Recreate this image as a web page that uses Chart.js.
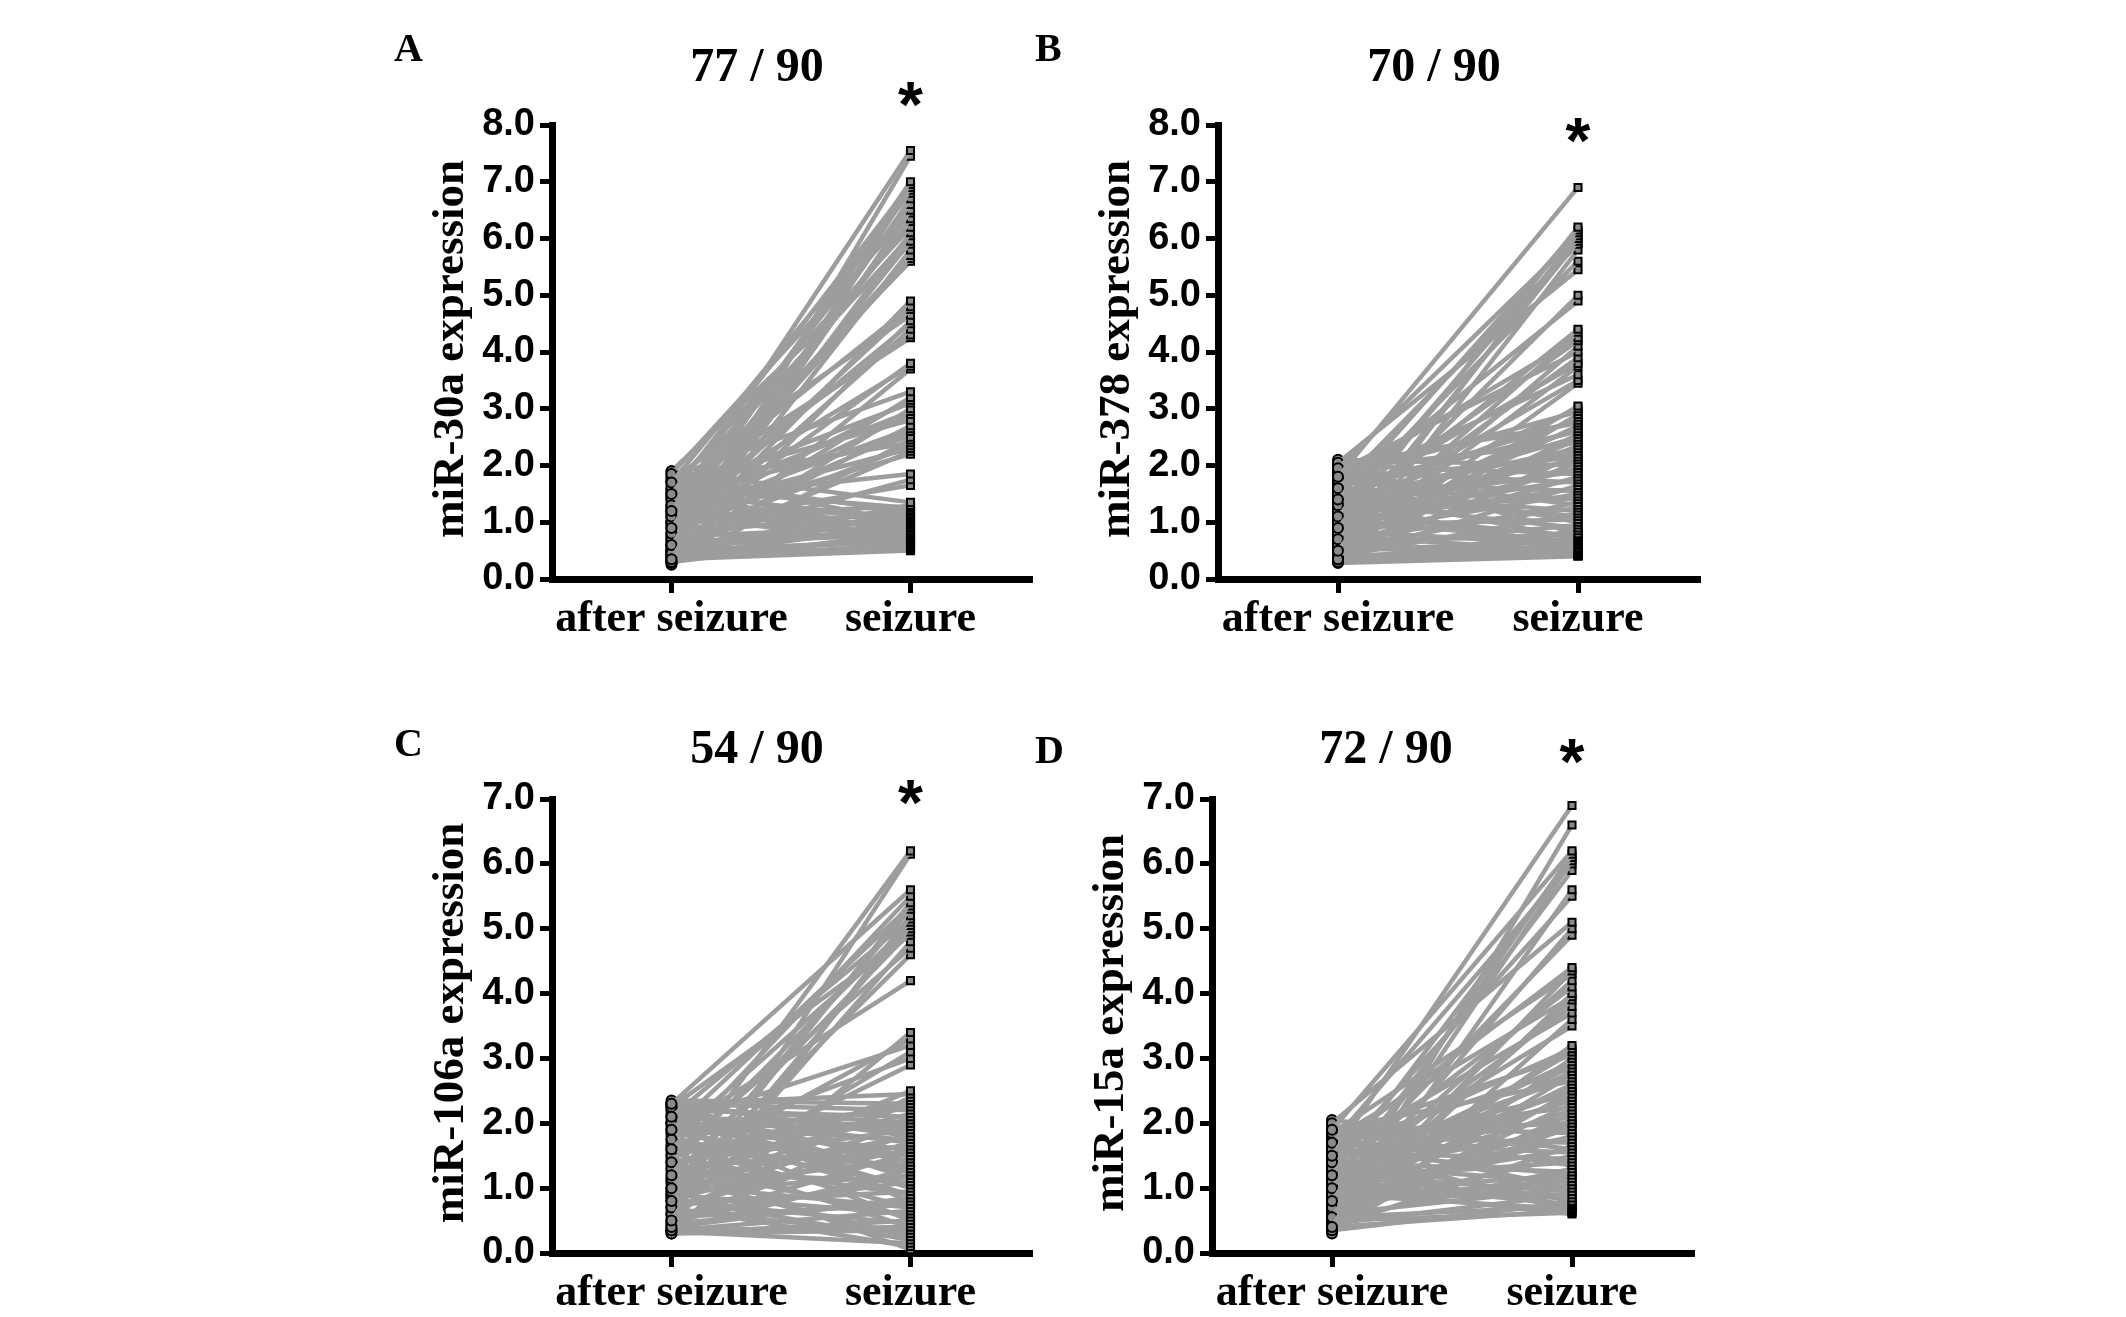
<!DOCTYPE html>
<html>
<head>
<meta charset="utf-8">
<title>miRNA expression, after seizure vs seizure</title>
<script src="https://cdn.jsdelivr.net/npm/chart.js@4.4.1/dist/chart.umd.min.js"></script>
<style>
  html, body { margin: 0; padding: 0; background: #fff; }
  body { width: 2126px; height: 1317px; position: relative; overflow: hidden; }
  canvas { position: absolute; }
</style>
</head>
<body>
<canvas id="chartA" width="680" height="660" style="left:380px;top:0px;width:680px;height:660px"></canvas>
<canvas id="chartB" width="720" height="660" style="left:1030px;top:0px;width:720px;height:660px"></canvas>
<canvas id="chartC" width="680" height="657" style="left:380px;top:660px;width:680px;height:657px"></canvas>
<canvas id="chartD" width="720" height="657" style="left:1030px;top:660px;width:720px;height:657px"></canvas>
<script>
// Data

const groups = ['after seizure', 'seizure'];
const ticks8 = [0, 1, 2, 3, 4, 5, 6, 7, 8];
const ticks7 = [0, 1, 2, 3, 4, 5, 6, 7];

// A - miR-30a
const afterA = [1.2, 0.35,
    0.9, 1.5, 0.3, 1.1, 1.7, 0.6, 1.3, 0.45, 1.85, 0.8, 1.0, 1.6, 0.5, 1.4, 0.7, 1.9, 0.4, 1.15, 0.95, 1.25,
    0.55, 1.45, 0.85, 1.75, 0.3, 1.05, 0.65, 1.35, 1.55,
    0.75, 1.2, 0.28,
    1.8, 0.6, 1.0, 1.5, 0.35, 1.3, 0.9, 1.65, 0.5, 1.1, 0.8, 1.45, 0.25, 1.7, 0.7, 1.2, 0.45, 1.0,
    1.4, 0.6, 0.95,
    1.9, 0.5, 1.1, 1.6, 0.3, 0.8, 1.75, 0.45, 1.0, 1.3, 0.6, 1.5, 0.35, 0.9, 1.85, 0.4, 0.75, 1.2, 0.55, 1.45,
    0.3, 0.6, 0.65, 1.7, 0.4, 1.25, 0.5, 0.5, 1.55, 0.35, 0.4, 1.15, 0.45, 1.8, 0.35];
const seizureA = [7.55, 7.45,
    7.0, 6.95, 6.9, 6.85, 6.8, 6.7, 6.6, 6.5, 6.45, 6.35, 6.3, 6.2, 6.1, 6.05, 5.95, 5.9, 5.8, 5.7, 5.65, 5.6,
    4.9, 4.8, 4.75, 4.65, 4.55, 4.5, 4.4, 4.3, 4.25,
    3.8, 3.75, 3.7,
    3.3, 3.2, 3.15, 3.1, 3.0, 2.95, 2.9, 2.8, 2.7, 2.65, 2.6, 2.5, 2.45, 2.4, 2.35, 2.3, 2.25, 2.2,
    1.85, 1.75, 1.65,
    1.35, 1.3, 1.28, 1.25, 1.22, 1.2, 1.18, 1.15, 1.12, 1.1, 1.08, 1.05, 1.02, 1.0, 0.98, 0.95, 0.92, 0.9, 0.88, 0.85,
    0.82, 0.8, 0.78, 0.75, 0.72, 0.7, 0.68, 0.65, 0.62, 0.6, 0.58, 0.56, 0.54, 0.52, 0.5];

// B - miR-378
const afterB = [1.8, 0.9, 1.4, 0.5, 1.95, 1.1, 0.7, 1.6, 0.35, 1.3, 2.05, 0.8, 1.5, 1.0, 0.6, 1.75, 1.2, 0.45, 1.9, 0.85,
    1.35, 0.55, 1.65, 1.05, 0.4,
    0.5, 1.2, 1.8, 0.35, 0.9, 1.5, 2.0, 0.7, 1.1, 1.65, 0.4, 1.3, 0.8, 1.95, 0.6, 1.4, 1.0, 0.3, 1.75, 1.25,
    0.45, 2.1, 0.9, 1.3, 2.0, 0.6, 1.1, 1.9, 0.35, 1.0, 1.7, 0.8, 1.2, 1.6, 0.5, 1.85, 0.7, 1.5, 0.4, 1.45,
    0.95, 1.8, 0.55, 1.35, 0.3, 1.95, 0.65, 1.15, 0.35, 1.55, 0.5, 1.05, 0.3, 0.85, 0.4, 1.25, 0.32, 0.75, 0.3, 0.6,
    0.33, 1.4, 0.3, 0.55, 0.28];
const seizureB = [6.9,
    6.2, 6.15, 6.1, 6.05, 6.0, 5.95, 5.9, 5.8,
    5.6, 5.45,
    5.0, 4.9,
    4.4, 4.35, 4.25, 4.2, 4.1, 4.0, 3.9, 3.8, 3.75, 3.6, 3.5, 3.45,
    3.05, 3.0, 2.95, 2.9, 2.85, 2.8, 2.75, 2.7, 2.65, 2.6, 2.55, 2.5, 2.45, 2.4, 2.35, 2.3, 2.25, 2.2, 2.15, 2.1,
    2.05, 2.0, 1.95, 1.9, 1.85, 1.8, 1.75, 1.7, 1.65, 1.6, 1.55, 1.5, 1.45, 1.4, 1.35, 1.3, 1.25, 1.2, 1.15, 1.1,
    1.05, 1.0, 0.95, 0.9, 0.85, 0.8, 0.78, 0.75, 0.72, 0.7, 0.68, 0.65, 0.62, 0.6, 0.58, 0.55, 0.52, 0.5, 0.48, 0.46,
    0.45, 0.44, 0.42, 0.41, 0.4];

// C - miR-106a
const afterC = [1.2, 0.5, 2.3, 1.6, 0.8, 1.9, 1.0, 0.4, 2.1, 1.4, 0.7, 1.75, 1.15, 2.25, 0.6, 1.5, 0.95, 1.85, 0.35, 1.3,
    2.0, 0.9, 1.65, 1.1,
    1.0, 2.3, 0.6, 1.5, 2.35, 0.9, 1.8, 2.3, 1.2, 0.4,
    2.2, 1.6, 2.25, 0.8, 2.1, 1.4, 2.0, 0.5, 2.3, 1.1,
    1.95, 0.7, 2.15, 1.3, 1.9, 0.85, 0.45, 2.05, 1.7, 1.0,
    2.2, 1.6, 0.35, 1.85, 2.0, 0.95, 0.5, 2.3, 1.25, 0.6,
    1.75, 2.1, 0.75, 1.45, 1.9, 0.4, 0.45, 2.25, 0.55, 1.05,
    1.65, 0.35, 0.9, 1.35, 0.3, 2.0, 0.8, 0.35, 1.55, 0.3,
    0.65, 1.15, 0.85, 0.33, 0.7, 1.4];
const seizureC = [6.2, 6.15,
    5.6, 5.5, 5.4, 5.35, 5.3, 5.2, 5.15, 5.1, 5.05, 5.0, 4.95, 4.9, 4.8, 4.7, 4.6,
    4.2,
    3.4, 3.3, 3.2, 3.1, 3.0, 2.9,
    2.5, 2.45, 2.4, 2.35, 2.3, 2.3, 2.25, 2.2, 2.15, 2.1,
    2.1, 2.05, 2.0, 2.0, 1.95, 1.9, 1.9, 1.85, 1.8, 1.8,
    1.75, 1.7, 1.7, 1.65, 1.6, 1.6, 1.55, 1.5, 1.5, 1.45,
    1.4, 1.35, 1.3, 1.3, 1.25, 1.2, 1.2, 1.15, 1.1, 1.1,
    1.05, 1.0, 0.95, 0.9, 0.9, 0.85, 0.8, 0.8, 0.75, 0.7,
    0.7, 0.65, 0.6, 0.55, 0.5, 0.5, 0.45, 0.4, 0.4, 0.35,
    0.3, 0.25, 0.2, 0.15, 0.1, 0.05];

// D - miR-15a
const afterD = [1.5, 0.4, 1.9, 0.8, 1.2, 0.55, 1.7, 1.0, 0.35, 1.4, 2.0, 0.7, 1.1, 1.6, 0.5, 1.85, 0.9, 1.3, 0.45, 1.75,
    0.65, 1.05, 1.55, 0.3, 1.25,
    0.6, 1.5, 0.9, 1.8, 0.4, 1.2, 0.75, 1.65, 1.0, 0.5,
    1.4, 1.9, 0.8, 1.1, 0.35, 1.6, 0.95, 1.3, 0.55, 1.75,
    1.05, 0.45, 1.45, 0.7, 1.85, 0.6, 1.25, 1.95, 0.85, 1.5,
    1.8, 0.4, 1.0, 1.7, 0.65, 1.55, 1.15, 1.9, 0.5, 1.4,
    1.6, 0.75, 1.35, 0.9, 1.75, 1.2, 0.45, 1.05, 1.45, 0.35,
    1.1, 0.55, 1.3, 0.9, 0.4, 1.65, 0.5, 1.0, 0.8, 2.05,
    1.2, 0.7, 0.95, 0.6, 0.85];
const seizureD = [6.9, 6.6,
    6.2, 6.15, 6.1, 6.05, 6.0, 5.9,
    5.6, 5.5,
    5.1, 5.0, 4.9,
    4.4, 4.35, 4.3, 4.2, 4.1, 4.0, 3.95, 3.9, 3.8, 3.7, 3.6, 3.5,
    3.2, 3.15, 3.1, 3.05, 3.0, 2.95, 2.9, 2.85, 2.8, 2.75,
    2.7, 2.65, 2.6, 2.55, 2.5, 2.45, 2.4, 2.35, 2.3, 2.25,
    2.2, 2.15, 2.1, 2.05, 2.0, 1.95, 1.9, 1.85, 1.8, 1.75,
    1.7, 1.65, 1.6, 1.55, 1.5, 1.45, 1.4, 1.35, 1.3, 1.25,
    1.2, 1.15, 1.1, 1.05, 1.0, 0.95, 0.9, 0.85, 0.8, 0.78,
    0.75, 0.72, 0.7, 0.68, 0.66, 0.64, 0.62, 0.6, 2.0, 1.6,
    2.5, 1.8, 1.2, 1.0, 0.9];

// Style

const LINE_GRAY = '#9d9d9d';
const POINT_GRAY = '#8a8a8a';
const SERIF = "'Liberation Serif', 'Times New Roman', serif";
const SANS = "'Liberation Sans', Arial, sans-serif";

// panel letter, title, asterisk and y title
const decor = {
    id: 'decor',
    afterDraw(chart, args, o) {
        const ctx = chart.ctx;
        const area = chart.chartArea;
        ctx.save();
        ctx.fillStyle = '#000';
        ctx.textBaseline = 'alphabetic';

        ctx.font = 'bold 40px ' + SERIF;
        ctx.textAlign = 'left';
        ctx.fillText(o.letter, o.letterX, o.letterY);

        ctx.font = 'bold 48px ' + SERIF;
        ctx.textAlign = 'center';
        ctx.fillText(o.title, o.titleX, o.titleY);

        // asterisk sits over the seizure column
        const sx = chart.scales.x.getPixelForValue(1);
        ctx.font = 'bold 64px ' + SANS;
        ctx.fillText('*', sx, o.starY + 0.58 * 64);

        ctx.translate(area.left - 89, (area.top + area.bottom) / 2 - 3);
        ctx.rotate(-Math.PI / 2);
        ctx.font = 'bold 45px ' + SERIF;
        ctx.fillText(o.yTitle, 0, 0);
        ctx.restore();
    }
};

// Setup

const panels = [
    { id: 'chartA', after: afterA, seizure: seizureA, ticks: ticks8, letter: 'A', title: '77 / 90',
      yTitle: 'miR-30a expression', yWidth: 172, padTop: 125, padRight: 30, xHeight: 81,
      letterX: 14, letterY: 61, titleX: 377, titleY: 81, starY: 90 },
    { id: 'chartB', after: afterB, seizure: seizureB, ticks: ticks8, letter: 'B', title: '70 / 90',
      yTitle: 'miR-378 expression', yWidth: 188, padTop: 125, padRight: 52, xHeight: 81,
      letterX: 5, letterY: 61, titleX: 404, titleY: 81, starY: 126 },
    { id: 'chartC', after: afterC, seizure: seizureC, ticks: ticks7, letter: 'C', title: '54 / 90',
      yTitle: 'miR-106a expression', yWidth: 172, padTop: 139, padRight: 30, xHeight: 64,
      letterX: 14, letterY: 96, titleX: 377, titleY: 103, starY: 128 },
    { id: 'chartD', after: afterD, seizure: seizureD, ticks: ticks7, letter: 'D', title: '72 / 90',
      yTitle: 'miR-15a expression', yWidth: 182, padTop: 139, padRight: 58, xHeight: 64,
      letterX: 5, letterY: 103, titleX: 356, titleY: 103, starY: 87 }
];

function makeChart(p) {
    const datasets = p.after.map((a, i) => ({
        data: [a, p.seizure[i]],
        borderColor: LINE_GRAY,
        borderWidth: 4.5,
        pointStyle: ['circle', 'rect'],
        pointRadius: 5,
        pointBackgroundColor: POINT_GRAY,
        pointBorderColor: '#000',
        pointBorderWidth: 2,
        fill: false,
        tension: 0
    }));

    const config = {
        type: 'line',
        data: { labels: groups, datasets: datasets },
        options: {
            responsive: false,
            animation: false,
            devicePixelRatio: 1,
            layout: { padding: { top: p.padTop, right: p.padRight, left: 0, bottom: 0 } },
            plugins: {
                legend: { display: false },
                tooltip: { enabled: false },
                decor: p
            },
            scales: {
                x: {
                    type: 'category',
                    offset: true,
                    grid: { offset: false, drawOnChartArea: false, drawTicks: true, tickLength: 14, lineWidth: 5, color: '#000' },
                    border: { display: true, color: '#000', width: 7 },
                    ticks: { color: '#000', padding: 0, maxRotation: 0, autoSkip: false,
                             font: { family: SERIF, size: 44, weight: 'bold' } },
                    afterFit(s) { s.height = p.xHeight; }
                },
                y: {
                    min: p.ticks[0],
                    max: p.ticks[p.ticks.length - 1],
                    afterBuildTicks(s) { s.ticks = p.ticks.map(v => ({ value: v })); },
                    grid: { drawOnChartArea: false, drawTicks: true, tickLength: 12, lineWidth: 5, color: '#000' },
                    border: { display: true, color: '#000', width: 7 },
                    ticks: { color: '#000', padding: 5, callback: v => v.toFixed(1),
                             font: { family: SANS, size: 38, weight: 'bold' } },
                    afterFit(s) { s.width = p.yWidth; }
                }
            }
        },
        plugins: [decor]
    };
    return new Chart(document.getElementById(p.id), config);
}

const charts = panels.map(makeChart);
</script>
</body>
</html>
